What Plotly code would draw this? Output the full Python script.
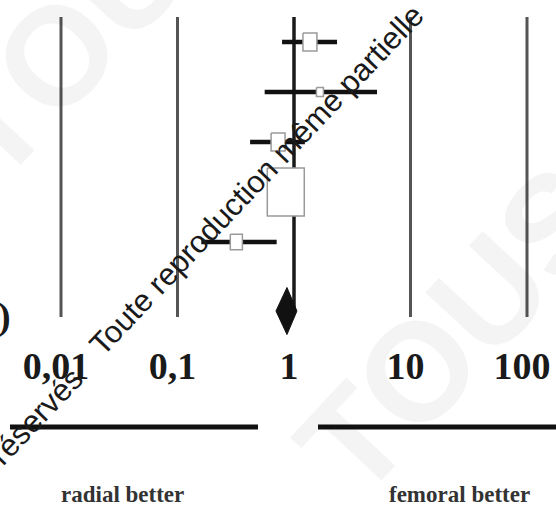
import numpy as np
import plotly.graph_objects as go

# ---------------- data ----------------
studies = ["Study 1", "Study 2", "Study 3", "Study 4", "Study 5"]
or_est = [1.37, 1.67, 0.73, 0.85, 0.32]
ci_low = [0.79, 0.56, 0.42, 0.74, 0.16]
ci_high = [2.34, 5.16, 1.24, 0.98, 0.71]
weights = [10.0, 2.5, 10.0, 70.0, 7.5]
pooled_est = 0.87
pooled_low = 0.70
pooled_high = 1.06
tick_values = [0.01, 0.1, 1, 10, 100]
tick_labels = ["0,01", "0,1", "1", "10", "100"]
side_labels = ["radial better", "femoral better"]

# ---------------- layout constants ----------------
W, H = 556, 506
MB = 166
PH = H - MB
X_RANGE = [-2.5236, 2.2489]
Y_RANGE = [5.96, -0.84]
decade_px = W / (X_RANGE[1] - X_RANGE[0])
row_px = PH / (Y_RANGE[0] - Y_RANGE[1])

rows = list(range(len(studies)))
pooled_row = len(studies) + 0.38
grid_top, grid_bottom = -0.5, len(studies) + 0.5


def px(x):
    return x / W


def py(y):
    return (PH - y) / PH


fig = go.Figure()

# reference grid lines
gx, gy = [], []
for v in tick_values:
    if v == 1:
        continue
    gx += [v, v, None]
    gy += [grid_top, grid_bottom, None]
fig.add_trace(go.Scatter(x=gx, y=gy, mode="lines",
                         line=dict(color="#555555", width=3), hoverinfo="skip"))
# line of no effect
fig.add_trace(go.Scatter(x=[1, 1], y=[grid_top, pooled_row], mode="lines",
                         line=dict(color="#1a1a1a", width=3.5), hoverinfo="skip"))

# confidence intervals
cx, cy = [], []
for r, lo, hi in zip(rows, ci_low, ci_high):
    cx += [lo, hi, None]
    cy += [r, r, None]
fig.add_trace(go.Scatter(x=cx, y=cy, mode="lines",
                         line=dict(color="#111111", width=4.5), hoverinfo="skip"))

# weighted boxes
sx, sy = [], []
for r, e, w in zip(rows, or_est, weights):
    hw = 4.42 * np.sqrt(w) / 2
    hh = 1.3 * hw
    dx = hw / decade_px
    dy = hh / row_px
    x0, x1 = e * 10 ** (-dx), e * 10 ** dx
    sx += [x0, x1, x1, x0, x0, None]
    sy += [r - dy, r - dy, r + dy, r + dy, r - dy, None]
fig.add_trace(go.Scatter(x=sx, y=sy, mode="lines", fill="toself",
                         fillcolor="white", line=dict(color="#9a9a9a", width=1.5),
                         hoverinfo="skip"))

# pooled diamond
dh = 23.5 / row_px
fig.add_trace(go.Scatter(
    x=[pooled_low, pooled_est, pooled_high, pooled_est, pooled_low],
    y=[pooled_row, pooled_row - dh, pooled_row, pooled_row + dh, pooled_row],
    mode="lines", fill="toself", fillcolor="#111111",
    line=dict(color="#111111", width=1), hoverinfo="skip"))

annotations = []
# faint background watermark letters
for cxp, cyp in [(455, 330), (95, 15)]:
    annotations.append(dict(x=px(cxp), y=py(cyp), xref="paper", yref="paper",
                            text="TOUS", showarrow=False, textangle=-47,
                            xanchor="center", yanchor="middle",
                            font=dict(family="Liberation Sans", size=140,
                                      color="rgba(0,0,0,0.045)", weight="bold")))

# left partial bracket
annotations.append(dict(x=px(13), y=py(316), xref="paper", yref="paper",
                        text=")", showarrow=False, xanchor="right", yanchor="middle",
                        font=dict(family="Liberation Serif", size=38, color="#1a1a1a",
                                  weight="bold")))

# side labels
for label, cxp in zip(side_labels, [122, 459]):
    annotations.append(dict(x=px(cxp), y=py(494), xref="paper", yref="paper",
                            text=label, showarrow=False, xanchor="center", yanchor="middle",
                            font=dict(family="Liberation Serif", size=23, color="#333333",
                                      weight="bold")))

# diagonal watermark text
annotations.append(dict(x=px(256), y=py(180), xref="paper", yref="paper",
                        text="Toute reproduction même partielle", showarrow=False,
                        textangle=-46.5, xanchor="center", yanchor="middle",
                        font=dict(family="Liberation Sans", size=31, color="#1a1a1a")))
annotations.append(dict(x=px(-19), y=py(474), xref="paper", yref="paper",
                        text="Tous droits réservés", showarrow=False,
                        textangle=-46.5, xanchor="center", yanchor="middle",
                        font=dict(family="Liberation Sans", size=31, color="#1a1a1a")))

shapes = [
    dict(type="line", xref="paper", yref="paper", x0=px(10), x1=px(258),
         y0=py(427), y1=py(427), line=dict(color="#111111", width=5)),
    dict(type="line", xref="paper", yref="paper", x0=px(318), x1=px(570),
         y0=py(427), y1=py(427), line=dict(color="#111111", width=5)),
]

fig.update_layout(
    width=W, height=H,
    margin=dict(l=0, r=0, t=0, b=MB),
    paper_bgcolor="white", plot_bgcolor="white",
    showlegend=False,
    annotations=annotations,
    shapes=shapes,
    xaxis=dict(type="log", range=X_RANGE, tickvals=tick_values, ticktext=tick_labels,
               showgrid=False, zeroline=False, showline=False, ticks="",
               ticklabelstandoff=0, ticklabelshift=-5,
               tickfont=dict(family="Liberation Serif", size=38, color="#1a1a1a",
                             weight="bold")),
    yaxis=dict(range=Y_RANGE, visible=False),
)

fig.write_html("out.html", config={"displayModeBar": False},
               post_script="document.body.style.margin='0px';document.body.style.overflow='hidden';")
